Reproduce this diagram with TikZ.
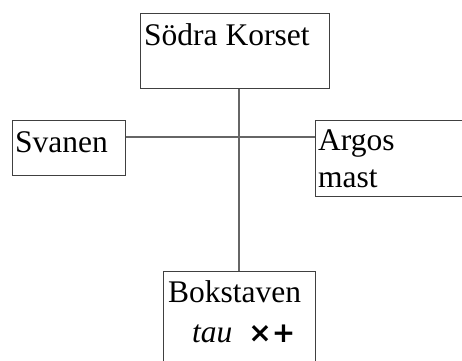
\documentclass[tikz,border=0pt]{standalone}
\usepackage{fontspec}
\setmainfont{Liberation Serif}
\newfontfamily\symfont{DejaVu Sans}
\usetikzlibrary{positioning}
\usetikzlibrary{calc}

\begin{document}
\begin{tikzpicture}[
x=1pt, y=-1pt,
box/.style ={rectangle, draw=black!75, line width=0.9pt, inner sep=0pt,
  anchor=north west},
txt/.style ={inner sep=0pt, anchor=base west,
  font=\fontsize{31.5}{36}\selectfont},
line/.style ={draw=black!60, line width=1.2pt}
]
\useasboundingbox (0,0) rectangle (462,360);

\node[box, minimum width=189pt, minimum height=75pt] (korset) at (140,13) {};
\node[box, minimum width=113pt, minimum height=55pt] (svanen) at (12,120) {};
\node[box, minimum width=160pt, minimum height=76pt] (argos) at (315,120) {};
\node[box, minimum width=152pt, minimum height=100pt] (bokstaven) at (163,271) {};

\node[txt] (korsettxt) at ($(korset.north west)+(4,32)$) {Södra Korset};
\node[txt] (svanentxt) at ($(svanen.north west)+(3,32)$) {Svanen};
\node[txt] (argostxt) at ($(argos.north west)+(3,30)$) {Argos};
\node[txt] (masttxt) at ($(argos.north west)+(3,67)$) {mast};
\node[txt] (bokstxt) at ($(bokstaven.north west)+(5,31)$) {Bokstaven};
\node[txt] (tautxt) at ($(bokstaven.north west)+(29,71)$)
  {\textit{tau}\hspace{8pt} {\symfont\bfseries\fontsize{28}{30}\selectfont ×+}};

\coordinate (hub) at (239,137);
\path[line] (hub -| svanen.east) -- (hub -| argos.west);
\path[line] (hub |- korset.south) -- (hub |- bokstaven.north);
\end{tikzpicture}
\end{document}
